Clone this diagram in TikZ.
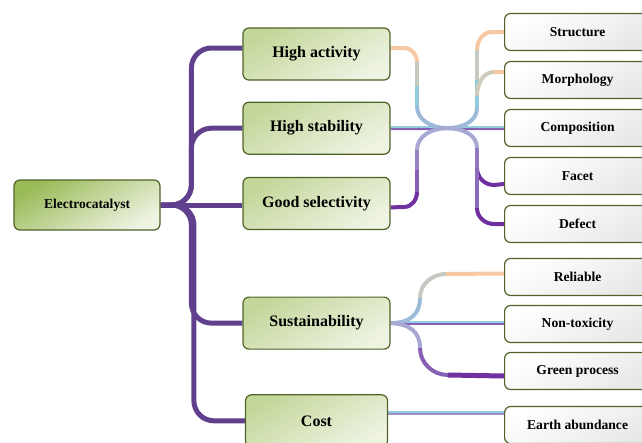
\documentclass[tikz,border=0pt]{standalone}
\usepackage{fontspec}
\setmainfont{Liberation Serif}
\usetikzlibrary{positioning,calc,backgrounds}
\definecolor{boxline}{RGB}{79,98,40}
\definecolor{rootfill}{RGB}{155,187,89}
\definecolor{levelfill}{RGB}{196,215,155}
\definecolor{levellight}{RGB}{238,243,226}
\definecolor{trunkcolor}{RGB}{96,64,140}
\definecolor{peach}{RGB}{247,200,164}
\definecolor{sky}{RGB}{146,205,220}
\definecolor{lavender}{RGB}{168,168,212}
\definecolor{purp}{RGB}{112,48,160}

\tikzset{
  rootbox/.style={draw=boxline, line width=1.2pt, rounded corners=6pt, minimum width=146pt, minimum height=50pt,
    top color=rootfill, bottom color=levellight, shading angle=30, font=\fontsize{13.5}{16}\selectfont\bfseries},
  levelbox/.style={draw=boxline, line width=1.2pt, rounded corners=6pt, minimum width=147pt, minimum height=52pt,
    top color=levelfill, bottom color=levellight, shading angle=30, font=\fontsize{16}{19}\selectfont\bfseries},
  leafbox/.style={draw=boxline, line width=1.2pt, rounded corners=6pt, minimum width=146pt, minimum height=37pt,
    top color=white, bottom color=black!9, shading angle=30, font=\fontsize{13.6}{15}\selectfont\bfseries},
  trunk/.style={trunkcolor, line width=5pt, rounded corners=20pt},
  twig/.style={line width=4pt},
  flat/.style={line width=2pt},
}

\begin{document}
\begin{tikzpicture}[x=1pt, y=-1pt, node distance=9.8pt]
\path[use as bounding box] (0,0) rectangle (642,442);
\clip (0,0) rectangle (642,442);

% boxes
\node[rootbox] (cat) at (87,205) {Electrocatalyst};
\node[levelbox] (act) at (316.5,54) {High activity};
\node[levelbox, below=21pt of act] (stab) {High stability};
\node[levelbox, below=22pt of stab] (sel) {Good selectivity};
\node[levelbox, below=66.5pt of sel] (sus) {Sustainability};
\node[levelbox, minimum width=142pt, below=44.5pt of sus] (cost) {Cost};
\node[leafbox, anchor=west] (struc) at (504,32) {Structure};
\node[leafbox, below=of struc] (morph) {Morphology};
\node[leafbox, below=of morph] (comp) {Composition};
\node[leafbox, below=of comp] (facet) {Facet};
\node[leafbox, below=of facet] (defect) {Defect};
\node[leafbox, below=14.8pt of defect] (rel) {Reliable};
\node[leafbox, below=8.8pt of rel] (nontox) {Non-toxicity};
\node[leafbox, below=8.8pt of nontox] (green) {Green process};
\node[leafbox, below=15.8pt of green] (earth) {Earth abundance};
\coordinate (hub) at ($(stab.east)!0.5!(comp.west)$);

\begin{scope}[on background layer]
% trunk
\draw[trunk] (cat.east) -| ([xshift=-51pt,yshift=6pt]act.west) -- ([yshift=6pt]act.west);
\draw[trunk] (cat.east) -| ([xshift=-51pt]stab.west) -- (stab.west);
\draw[trunk] (cat.east) -- (cat.east -| sel.west);
\draw[trunk] (cat.east) -| ([xshift=-51pt]sus.west) -- (sus.west);
\draw[trunk] (cat.east) -| ([xshift=-51pt]cost.west) -- (cost.west);

% straight links
\draw[flat, sky] ([yshift=1pt]stab.east) -- ([yshift=1pt]comp.west);
\draw[flat, purp!60!lavender] ([yshift=-1pt]stab.east) -- ([yshift=-1pt]comp.west);
\draw[flat, sky] ([yshift=1pt]sus.east) -- ([yshift=1pt]sus.east -| nontox.west);
\draw[flat, purp!60!lavender] ([yshift=-1pt]sus.east) -- ([yshift=-1pt]sus.east -| nontox.west);
\draw[flat, sky] ([yshift=9pt]cost.east) -- ([yshift=9pt]cost.east -| earth.west);
\draw[flat, lavender!80!purp] ([yshift=7pt]cost.east) -- ([yshift=7pt]cost.east -| earth.west);

% crossing into the hub
\draw[twig, peach] ([yshift=6pt]act.east) -- (404,48) to[out=0,in=90] (417,62);
\draw[twig, peach!50!sky] (417,62) -- (417,86);
\draw[twig, sky] (417,86) -- (417,106);
\draw[twig, sky!50!lavender] (417,106) to[out=-90,in=180] (hub);
\draw[twig, purp] ([yshift=-4pt]sel.east) -- (404,207) to[out=0,in=-90] (417,192);
\draw[twig, purp!60!lavender] (417,192) -- (417,170);
\draw[twig, lavender!70!purp] (417,170) -- (417,150);
\draw[twig, lavender] (417,150) to[out=90,in=180] (hub);

% out of the hub
\draw[twig, lavender!50!sky] (hub) to[out=0,in=-90] (477,108);
\draw[twig, sky] (477,108) -- (477,80);
\draw[twig, sky!50!peach] (477,80) -- (477,50);
\draw[twig, peach] (477,50) to[out=90,in=180] (492,32) -- (struc.west);
\draw[twig, sky!40!peach] (477,96) to[out=90,in=180] (494,72);
\draw[twig, peach] (494,72) -- ([yshift=8pt]morph.west);
\draw[twig, lavender] (hub) to[out=0,in=90] (477,148);
\draw[twig, lavender!60!purp] (477,148) -- (477,168);
\draw[twig, purp] (477,168) to[out=-90,in=180] (494,185) -- ([yshift=-8pt]facet.west);
\draw[twig, lavender!50!purp] (477,168) -- (477,208);
\draw[twig, purp] (477,208) to[out=-90,in=180] (494,224) -- (defect.west);

% sustainability fan
\draw[twig, lavender!50!sky] (sus.east) .. controls (410,323) and (420,314) .. (420,298);
\draw[twig, sky!50!peach] (420,298) to[out=90,in=180] (446,274);
\draw[twig, peach] (446,274) -- ([yshift=3.5pt]rel.west);
\draw[twig, lavender] (sus.east) .. controls (410,324) and (420,332) .. (420,348);
\draw[twig, lavender!40!purp] (420,348) to[out=-90,in=180] (448,375);
\draw[twig, purp, line width=5pt] (448,375) -- ([yshift=-5pt]green.west);
\end{scope}
\end{tikzpicture}
\end{document}
